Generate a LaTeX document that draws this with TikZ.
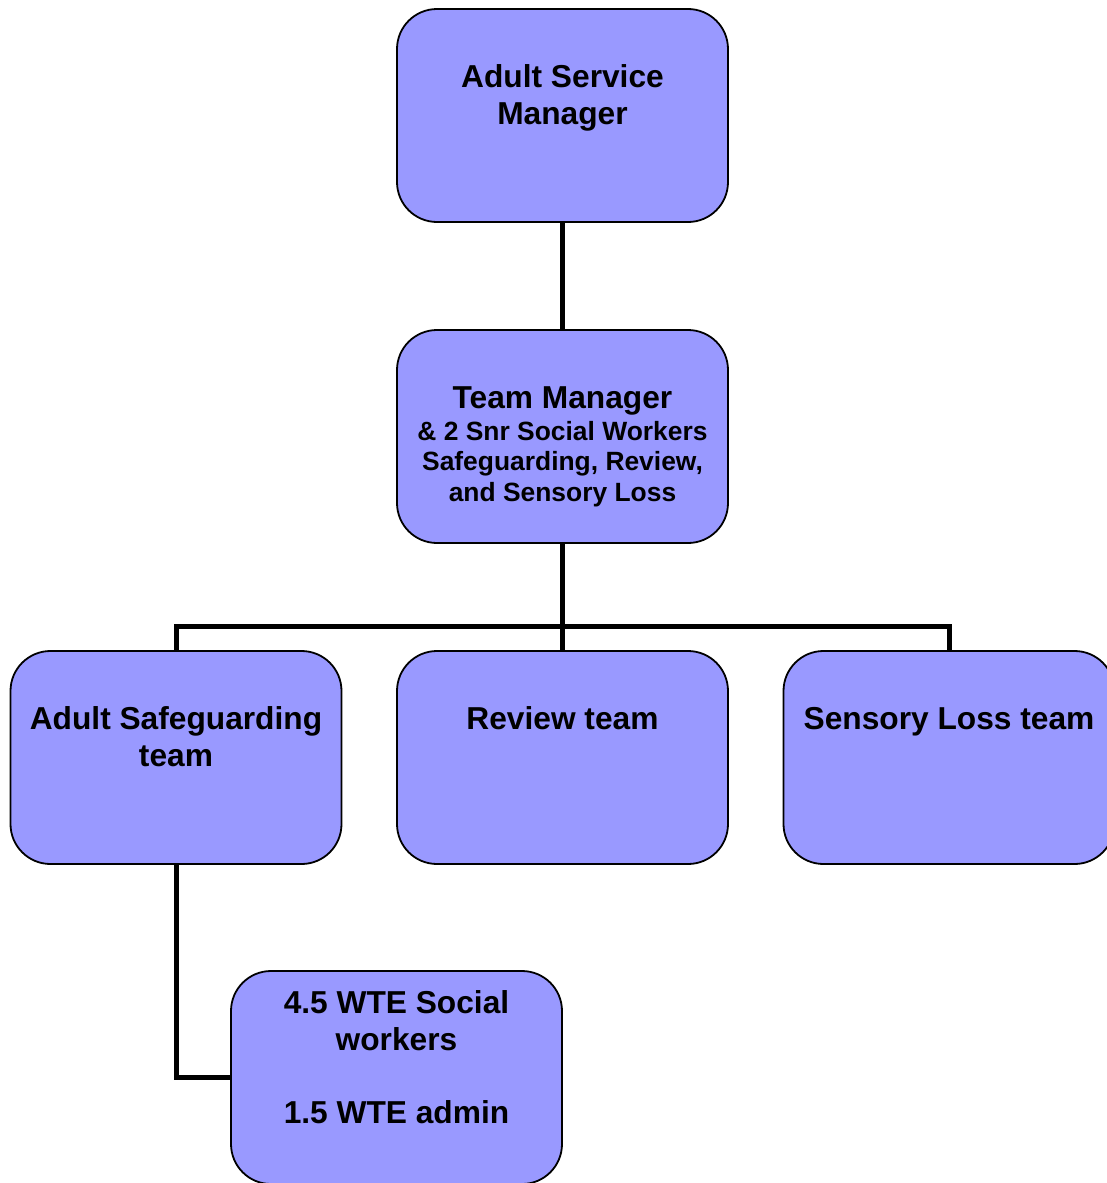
\documentclass[tikz,border=0pt]{standalone}
\usepackage{fontspec}
\setmainfont{Liberation Sans}
\definecolor{boxblue}{HTML}{9999FF}
\begin{document}
\begin{tikzpicture}[x=1pt,y=-1pt,
  box/.style={draw=black, line width=1.8pt, fill=boxblue, rounded corners=40pt,
    minimum width=331pt, minimum height=213pt, inner sep=0pt},
  bigtxt/.style={font=\bfseries\fontsize{31.7}{36.5}\selectfont, align=center, anchor=base, inner sep=0pt},
  smalltxt/.style={font=\bfseries\fontsize{26.4}{30.4}\selectfont, align=center, anchor=base, inner sep=0pt},
  conn/.style={line width=5pt}]
\useasboundingbox (0,0) rectangle (1106,1183);
% boxes
\node[box] (asm) at (562.5,115.5) {};
\node[box] (tm) at (562.5,436.5) {};
\node[box] (as) at (176,757.5) {};
\node[box] (rv) at (562.5,757.5) {};
\node[box] (sl) at (949,757.5) {};
\node[box] (wk) at (396.5,1077.5) {};
% connectors
\draw[conn] (asm.south) -- (tm.north);
\draw[conn] (tm.south) -- (rv.north);
\draw[conn] (as.north) -- ++(0,-24) -| (sl.north);
\draw[conn] (as.south) |- (wk.west);
% texts (base anchor = baseline of the last line)
\node[bigtxt] (asmt) at (562.5,124) {Adult Service\\Manager};
\node[bigtxt] (tmt1) at (562.5,408) {Team Manager};
\node[smalltxt] (tmt2) at (562.5,501) {\& 2 Snr Social Workers\\Safeguarding, Review,\\and Sensory Loss};
\node[bigtxt] (ast) at (176,766) {Adult Safeguarding\\team};
\node[bigtxt] (rvt) at (562.5,729) {Review team};
\node[bigtxt] (slt) at (949,729) {Sensory Loss team};
\node[bigtxt] (wkt) at (396.5,1123) {4.5 WTE Social\\workers\\[36.5pt]1.5 WTE admin};
\end{tikzpicture}
\end{document}
